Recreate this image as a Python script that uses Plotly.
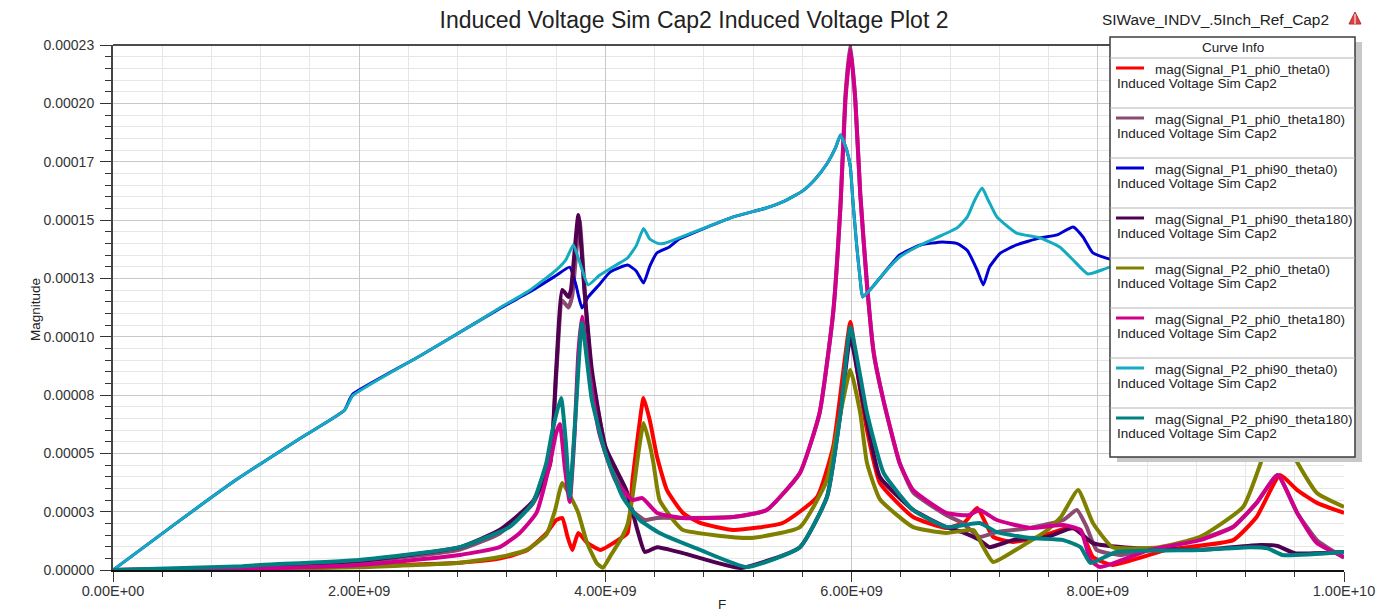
import plotly.graph_objects as go

# ---------------------------------------------------------------------------
# Curve data: frequency in GHz, magnitude in units of 1e-5 V
# ---------------------------------------------------------------------------
p1_phi0_theta0_f = [0, 1.0, 2.0, 2.5, 2.82, 3.14, 3.36, 3.52, 3.6, 3.65, 3.69, 3.73, 3.78, 3.85, 3.96,
                    4.1, 4.18, 4.22, 4.27, 4.31, 4.36, 4.42, 4.5, 4.63, 4.77, 5.04, 5.44, 5.72, 5.85,
                    5.93, 5.99, 6.05, 6.125, 6.23, 6.5, 6.77, 6.92, 7.02, 7.15, 7.31, 7.53, 7.75, 7.86,
                    7.96, 8.12, 8.56, 9.1, 9.29, 9.48, 9.62, 9.78, 10.0]
p1_phi0_theta0_m = [0, 0.04, 0.15, 0.25, 0.32, 0.5, 0.85, 1.6, 2.19, 2.28, 1.5, 0.88, 1.62, 1.2, 0.88,
                    1.3, 1.62, 3.94, 6.13, 7.54, 6.57, 4.95, 3.5, 2.5, 2.06, 1.75, 2.06, 3.2, 5.39,
                    8.6, 10.87, 8.6, 6.13, 3.81, 2.32, 1.84, 2.1, 2.72, 1.45, 1.23, 1.45, 1.84, 1.75,
                    0.57, 0.22, 0.88, 1.31, 2.32, 4.16, 3.5, 2.94, 2.5]

p1_phi0_theta180_f = [0, 1.0, 2.0, 2.82, 3.14, 3.41, 3.55, 3.6, 3.65, 3.7, 3.73, 3.79, 3.84, 3.89, 4.0,
                      4.13, 4.22, 4.32, 4.42, 4.63, 5.04, 5.31, 5.58, 5.74, 5.85, 5.91, 5.95, 5.99,
                      6.03, 6.07, 6.125, 6.18, 6.26, 6.39, 6.5, 6.77, 6.9, 7.04, 7.18, 7.45, 7.72,
                      7.83, 7.91, 7.99, 8.18, 8.42, 8.83, 9.1, 9.29, 9.46, 9.62, 9.78, 10.0]
p1_phi0_theta180_m = [0, 0.08, 0.35, 0.9, 1.6, 2.9, 4.6, 8.5, 11.8, 11.5, 12.0, 15.3, 11.5, 8.5, 5.4,
                      3.6, 2.6, 2.19, 2.28, 2.28, 2.32, 2.63, 4.25, 6.88, 11.26, 16.0, 20.8, 23.0,
                      20.6, 16.5, 12.5, 9.5, 7.4, 4.69, 3.4, 2.4, 2.06, 1.45, 1.66, 1.84, 2.19,
                      2.63, 1.88, 0.88, 0.66, 0.88, 1.35, 1.9, 2.94, 4.16, 2.5, 1.31, 0.53]

p1_phi90_theta0_f = [0, 0.5, 1.0, 1.5, 1.88, 1.92, 1.95, 2.5, 3.0, 3.14, 3.39, 3.6, 3.71, 3.76, 3.81,
                     3.86, 3.95, 4.04, 4.18, 4.25, 4.31, 4.36, 4.42, 4.52, 4.6, 5.04, 5.3, 5.45, 5.6,
                     5.7, 5.8, 5.87, 5.91, 5.96, 5.99, 6.01, 6.04, 6.07, 6.09, 6.17, 6.26, 6.39, 6.56,
                     6.74, 6.86, 6.94, 7.02, 7.07, 7.12, 7.21, 7.34, 7.53, 7.67, 7.8, 7.88, 7.96, 8.1,
                     8.5, 9.0, 9.5, 10.0]
p1_phi90_theta0_m = [0, 2.0, 3.95, 5.7, 7.0, 7.45, 7.72, 9.4, 11.0, 11.45, 12.2, 12.9, 13.27, 12.5, 11.48,
                     11.96, 12.5, 13.06, 13.36, 13.1, 12.57, 13.3, 13.9, 14.15, 14.5, 15.47, 15.85, 16.15,
                     16.6, 17.1, 17.8, 18.5, 19.06, 18.4, 17.65, 16.2, 14.3, 12.7, 11.96, 12.4, 12.99,
                     13.8, 14.24, 14.37, 14.3, 14.0, 13.14, 12.49, 13.27, 13.89, 14.24, 14.55, 14.68,
                     15.03, 14.59, 13.89, 13.62, 13.4, 13.6, 13.9, 14.0]

p1_phi90_theta180_f = [0, 1.0, 2.0, 2.82, 3.14, 3.41, 3.55, 3.6, 3.65, 3.7, 3.72, 3.78, 3.83, 3.89, 4.0,
                       4.17, 4.26, 4.32, 4.42, 4.63, 5.1, 5.58, 5.8, 5.91, 5.99, 6.07, 6.125, 6.23,
                       6.5, 6.77, 6.9, 7.04, 7.12, 7.31, 7.59, 7.8, 7.96, 8.29, 8.83, 9.32, 9.46, 9.6,
                       10.0]
p1_phi90_theta180_m = [0, 0.1, 0.4, 1.0, 1.75, 3.0, 4.69, 8.76, 12.27, 11.96, 12.27, 15.55, 12.27, 8.76,
                       5.39, 3.5, 1.75, 0.79, 1.0, 0.74, 0.09, 1.0, 3.2, 6.88, 10.2, 8.0, 6.5, 4.07,
                       2.63, 1.88, 1.66, 1.31, 1.0, 1.31, 1.45, 1.84, 1.18, 0.96, 0.88, 1.1, 1.05, 0.74,
                       0.79]

p2_phi0_theta0_f = [0, 1.0, 2.0, 2.82, 3.14, 3.36, 3.52, 3.59, 3.65, 3.73, 3.78, 3.85, 3.93, 3.98, 4.05,
                    4.12, 4.18, 4.22, 4.27, 4.31, 4.36, 4.39, 4.44, 4.55, 4.63, 5.17, 5.58, 5.8, 5.91,
                    5.99, 6.07, 6.125, 6.23, 6.5, 6.77, 6.99, 7.07, 7.15, 7.37, 7.59, 7.7, 7.84, 7.96,
                    8.12, 8.5, 8.83, 9.18, 9.34, 9.42, 9.5, 9.56, 9.6, 9.78, 10.0]
p2_phi0_theta0_m = [0, 0.03, 0.12, 0.32, 0.57, 0.88, 1.55, 2.6, 3.81, 3.07, 2.5, 1.2, 0.3, 0.1, 0.7,
                    1.3, 2.0, 3.2, 5.2, 6.44, 5.5, 4.69, 3.07, 2.19, 1.75, 1.4, 1.88, 3.94, 6.88,
                    8.76, 6.88, 4.69, 3.1, 1.88, 1.62, 1.75, 1.0, 0.35, 1.0, 1.75, 2.32, 3.5, 2.06,
                    1.0, 1.0, 1.45, 2.76, 4.95, 6.3, 7.0, 6.3, 4.95, 3.37, 2.76]

p2_phi0_theta180_f = [0, 1.0, 2.0, 2.82, 3.14, 3.3, 3.44, 3.55, 3.6, 3.63, 3.67, 3.71, 3.75, 3.78, 3.81,
                      3.86, 3.95, 4.08, 4.22, 4.3, 4.42, 4.63, 5.04, 5.31, 5.58, 5.74, 5.85, 5.91,
                      5.95, 5.99, 6.03, 6.07, 6.125, 6.18, 6.26, 6.39, 6.5, 6.77, 6.95, 7.04, 7.18,
                      7.45, 7.72, 7.86, 7.94, 8.02, 8.42, 8.83, 9.1, 9.29, 9.46, 9.62, 9.78, 10.0]
p2_phi0_theta180_m = [0, 0.05, 0.22, 0.66, 1.0, 1.6, 2.5, 4.69, 6.0, 6.4, 4.5, 2.98, 6.0, 9.5, 11.1,
                      9.0, 6.0, 3.94, 3.07, 3.15, 2.5, 2.28, 2.32, 2.63, 4.25, 6.88, 11.26, 16.0,
                      20.6, 22.8, 20.6, 16.5, 12.5, 9.5, 7.4, 4.69, 3.5, 2.5, 2.4, 2.63, 2.19,
                      1.84, 1.97, 1.75, 0.44, 0.13, 0.88, 1.31, 1.88, 2.94, 4.16, 2.5, 1.18, 0.57]

p2_phi90_theta0_f = [0, 0.5, 1.0, 1.5, 1.88, 1.95, 2.5, 3.0, 3.14, 3.39, 3.6, 3.68, 3.74, 3.79, 3.86,
                     3.95, 4.1, 4.18, 4.25, 4.31, 4.36, 4.42, 4.47, 4.6, 5.04, 5.3, 5.45, 5.6, 5.7, 5.8,
                     5.87, 5.91, 5.96, 5.99, 6.01, 6.04, 6.07, 6.09, 6.17, 6.26, 6.39, 6.56, 6.74, 6.86,
                     6.94, 7.0, 7.06, 7.11, 7.18, 7.34, 7.53, 7.69, 7.8, 7.92, 8.1, 8.5, 9.0, 9.5, 10.0]
p2_phi90_theta0_m = [0, 2.0, 3.95, 5.7, 7.0, 7.65, 9.4, 11.0, 11.48, 12.27, 13.14, 13.6, 14.24, 13.5, 12.49,
                     12.9, 13.4, 13.67, 14.2, 14.96, 14.5, 14.32, 14.3, 14.55, 15.47, 15.85, 16.15, 16.6,
                     17.1, 17.8, 18.5, 19.06, 18.4, 17.65, 16.2, 14.3, 12.7, 11.96, 12.4, 12.99, 13.71,
                     14.24, 14.68, 15.0, 15.47, 16.2, 16.73, 16.2, 15.47, 14.76, 14.55, 14.15, 13.58,
                     12.97, 13.27, 13.6, 13.8, 14.0, 14.2]

p2_phi90_theta180_f = [0, 1.0, 1.19, 2.0, 2.82, 3.22, 3.41, 3.52, 3.57, 3.64, 3.68, 3.71, 3.76, 3.81, 3.89,
                       4.0, 4.14, 4.28, 4.44, 4.77, 5.15, 5.58, 5.8, 5.91, 5.99, 6.07, 6.125, 6.26, 6.5,
                       6.77, 7.04, 7.18, 7.45, 7.72, 7.86, 7.94, 8.15, 8.83, 9.24, 9.38, 9.5, 10.0]
p2_phi90_theta180_m = [0, 0.15, 0.22, 0.44, 1.0, 1.88, 2.94, 4.69, 6.13, 7.54, 5.5, 3.2, 7.0, 10.82, 7.45,
                       5.13, 3.2, 2.19, 1.62, 0.88, 0.13, 1.0, 3.2, 6.88, 10.65, 8.5, 6.88, 4.25, 2.63,
                       1.88, 2.06, 1.66, 1.4, 1.31, 1.0, 0.31, 0.79, 0.88, 1.0, 0.95, 0.66, 0.79]

curve_names = [
    "mag(Signal_P1_phi0_theta0)",
    "mag(Signal_P1_phi0_theta180)",
    "mag(Signal_P1_phi90_theta0)",
    "mag(Signal_P1_phi90_theta180)",
    "mag(Signal_P2_phi0_theta0)",
    "mag(Signal_P2_phi0_theta180)",
    "mag(Signal_P2_phi90_theta0)",
    "mag(Signal_P2_phi90_theta180)",
]
curve_freqs = [p1_phi0_theta0_f, p1_phi0_theta180_f, p1_phi90_theta0_f, p1_phi90_theta180_f,
               p2_phi0_theta0_f, p2_phi0_theta180_f, p2_phi90_theta0_f, p2_phi90_theta180_f]
curve_mags = [p1_phi0_theta0_m, p1_phi0_theta180_m, p1_phi90_theta0_m, p1_phi90_theta180_m,
              p2_phi0_theta0_m, p2_phi0_theta180_m, p2_phi90_theta0_m, p2_phi90_theta180_m]

x_tick_labels = ["0.00E+00", "2.00E+09", "4.00E+09", "6.00E+09", "8.00E+09", "1.00E+10"]
y_tick_labels = ["0.00000", "0.00003", "0.00005", "0.00008", "0.00010",
                 "0.00013", "0.00015", "0.00017", "0.00020", "0.00023"]

# ---------------------------------------------------------------------------
# Styling
# ---------------------------------------------------------------------------
colors = ["#FF0000", "#8B4A6F", "#0000D2", "#500050", "#808000", "#D0008C", "#14AAC0", "#008080"]
widths = [4, 4, 3, 4, 4, 4, 3, 4]
FONT = "Liberation Sans, Arial, sans-serif"
TEXT = "#222222"

W, H = 1388, 614
L, R, T, B = 113, 1344, 45, 570
Y_MAX = 2.3e-4
X_MAX = 1e10


def px(x):
    return (x - L) / (R - L)


def py(y):
    return (B - y) / (B - T)


fig = go.Figure()
for name, color, width, f, m in zip(curve_names, colors, widths, curve_freqs, curve_mags):
    fig.add_trace(go.Scatter(
        x=[v * 1e9 for v in f],
        y=[v * 1e-5 for v in m],
        mode="lines",
        name=name,
        line=dict(color=color, width=width, shape="spline", smoothing=0.45),
        showlegend=False,
        hoverinfo="skip",
    ))

n_y = len(y_tick_labels) - 1
y_tick_vals = [Y_MAX * i / n_y for i in range(len(y_tick_labels))]
x_tick_vals = [float(t) for t in x_tick_labels]

fig.update_layout(
    width=W, height=H,
    margin=dict(l=L, r=W - R, t=T, b=H - B),
    paper_bgcolor="white",
    plot_bgcolor="white",
    font=dict(family=FONT, color=TEXT),
    title=dict(text="Induced Voltage Sim Cap2 Induced Voltage Plot 2",
               x=694 / W, xanchor="center", y=1 - 20 / H, yanchor="middle",
               font=dict(size=23, family=FONT, color=TEXT)),
    xaxis=dict(
        range=[0, X_MAX], tickmode="array", tickvals=x_tick_vals, ticktext=x_tick_labels,
        ticks="outside", ticklen=10, tickwidth=1, tickcolor="#333333",
        showline=True, linecolor="#111111", linewidth=1.5,
        showgrid=True, gridcolor="#C8C8C8", gridwidth=1, zeroline=False,
        tickfont=dict(size=14.5, family=FONT, color="#333333"),
        ticklabelstandoff=-3,
        minor=dict(tickmode="linear", tick0=0, dtick=X_MAX / 25, ticks="outside", ticklen=5,
                   tickcolor="#333333", showgrid=True, gridcolor="#E6E6E6", gridwidth=1),
    ),
    yaxis=dict(
        range=[0, Y_MAX], tickmode="array", tickvals=y_tick_vals, ticktext=y_tick_labels,
        ticks="outside", ticklen=11, tickwidth=1, tickcolor="#333333",
        showline=True, linecolor="#444444", linewidth=2,
        showgrid=True, gridcolor="#C8C8C8", gridwidth=1, zeroline=False,
        tickfont=dict(size=14, family=FONT, color="#333333"),
        ticklabelstandoff=3,
        minor=dict(tickmode="linear", tick0=0, dtick=Y_MAX / (n_y * 5), ticks="outside", ticklen=6,
                   tickcolor="#333333", showgrid=True, gridcolor="#E6E6E6", gridwidth=1),
    ),
)

shapes = []
annotations = []

# top frame line
shapes.append(dict(type="line", xref="paper", yref="paper", x0=0, x1=1, y0=1, y1=1,
                   line=dict(color="#111111", width=1.5), layer="above"))

# legend panel: shadow, box, header, entries
LX0, LX1, LY0, LY1 = 1110, 1355, 37, 457
shapes.append(dict(type="rect", xref="paper", yref="paper",
                   x0=px(LX0 + 7), x1=px(LX1 + 7), y0=py(LY1 + 5), y1=py(LY0 + 5),
                   fillcolor="#C8C8C8", line=dict(width=0), layer="above"))
shapes.append(dict(type="rect", xref="paper", yref="paper",
                   x0=px(LX0), x1=px(LX1), y0=py(LY1), y1=py(LY0),
                   fillcolor="white", line=dict(color="#3C3C3C", width=1.5), layer="above"))
annotations.append(dict(text="Curve Info", xref="paper", yref="paper", x=px((LX0 + LX1) / 2),
                        y=py(48), xanchor="center", yanchor="middle", showarrow=False,
                        font=dict(size=13.5, family=FONT, color=TEXT)))
ENTRY_TOP = 58
ENTRY_H = 50
for i, (name, color) in enumerate(zip(curve_names, colors)):
    top = ENTRY_TOP + i * ENTRY_H
    shapes.append(dict(type="line", xref="paper", yref="paper", x0=px(LX0), x1=px(LX1),
                       y0=py(top), y1=py(top), line=dict(color="#B4B4B4", width=1), layer="above"))
    shapes.append(dict(type="line", xref="paper", yref="paper", x0=px(1116), x1=px(1144),
                       y0=py(top + 10), y1=py(top + 10), line=dict(color=color, width=3),
                       layer="above"))
    annotations.append(dict(text=name, xref="paper", yref="paper", x=px(1153), y=py(top + 11),
                            xanchor="left", yanchor="middle", showarrow=False,
                            font=dict(size=13.5, family=FONT, color=TEXT)))
    annotations.append(dict(text="Induced Voltage Sim Cap2", xref="paper", yref="paper",
                            x=px(1115), y=py(top + 25), xanchor="left", yanchor="middle",
                            showarrow=False, font=dict(size=13.5, family=FONT, color=TEXT)))

# project label and marker in the top-right corner
annotations.append(dict(text="SIWave_INDV_.5Inch_Ref_Cap2", xref="paper", yref="paper",
                        x=px(1100), y=py(20), xanchor="left", yanchor="middle", showarrow=False,
                        font=dict(size=15.4, family=FONT, color=TEXT)))
shapes.append(dict(type="path", xref="paper", yref="paper",
                   path=f"M {px(1349)} {py(24)} L {px(1355)} {py(12)} L {px(1361)} {py(24)} Z",
                   fillcolor="#E04040", line=dict(color="#B03030", width=1), layer="above"))
shapes.append(dict(type="line", xref="paper", yref="paper", x0=px(1355), x1=px(1355),
                   y0=py(14), y1=py(24), line=dict(color="white", width=1), layer="above"))

# axis titles
annotations.append(dict(text="Magnitude", xref="paper", yref="paper", x=px(35), y=py(310),
                        xanchor="center", yanchor="middle", textangle=-90, showarrow=False,
                        font=dict(size=13.5, family=FONT, color=TEXT)))
annotations.append(dict(text="F", xref="paper", yref="paper", x=px(722), y=py(604),
                        xanchor="center", yanchor="middle", showarrow=False,
                        font=dict(size=13.5, family=FONT, color=TEXT)))

fig.update_layout(shapes=shapes, annotations=annotations)
fig.write_html("out.html")
